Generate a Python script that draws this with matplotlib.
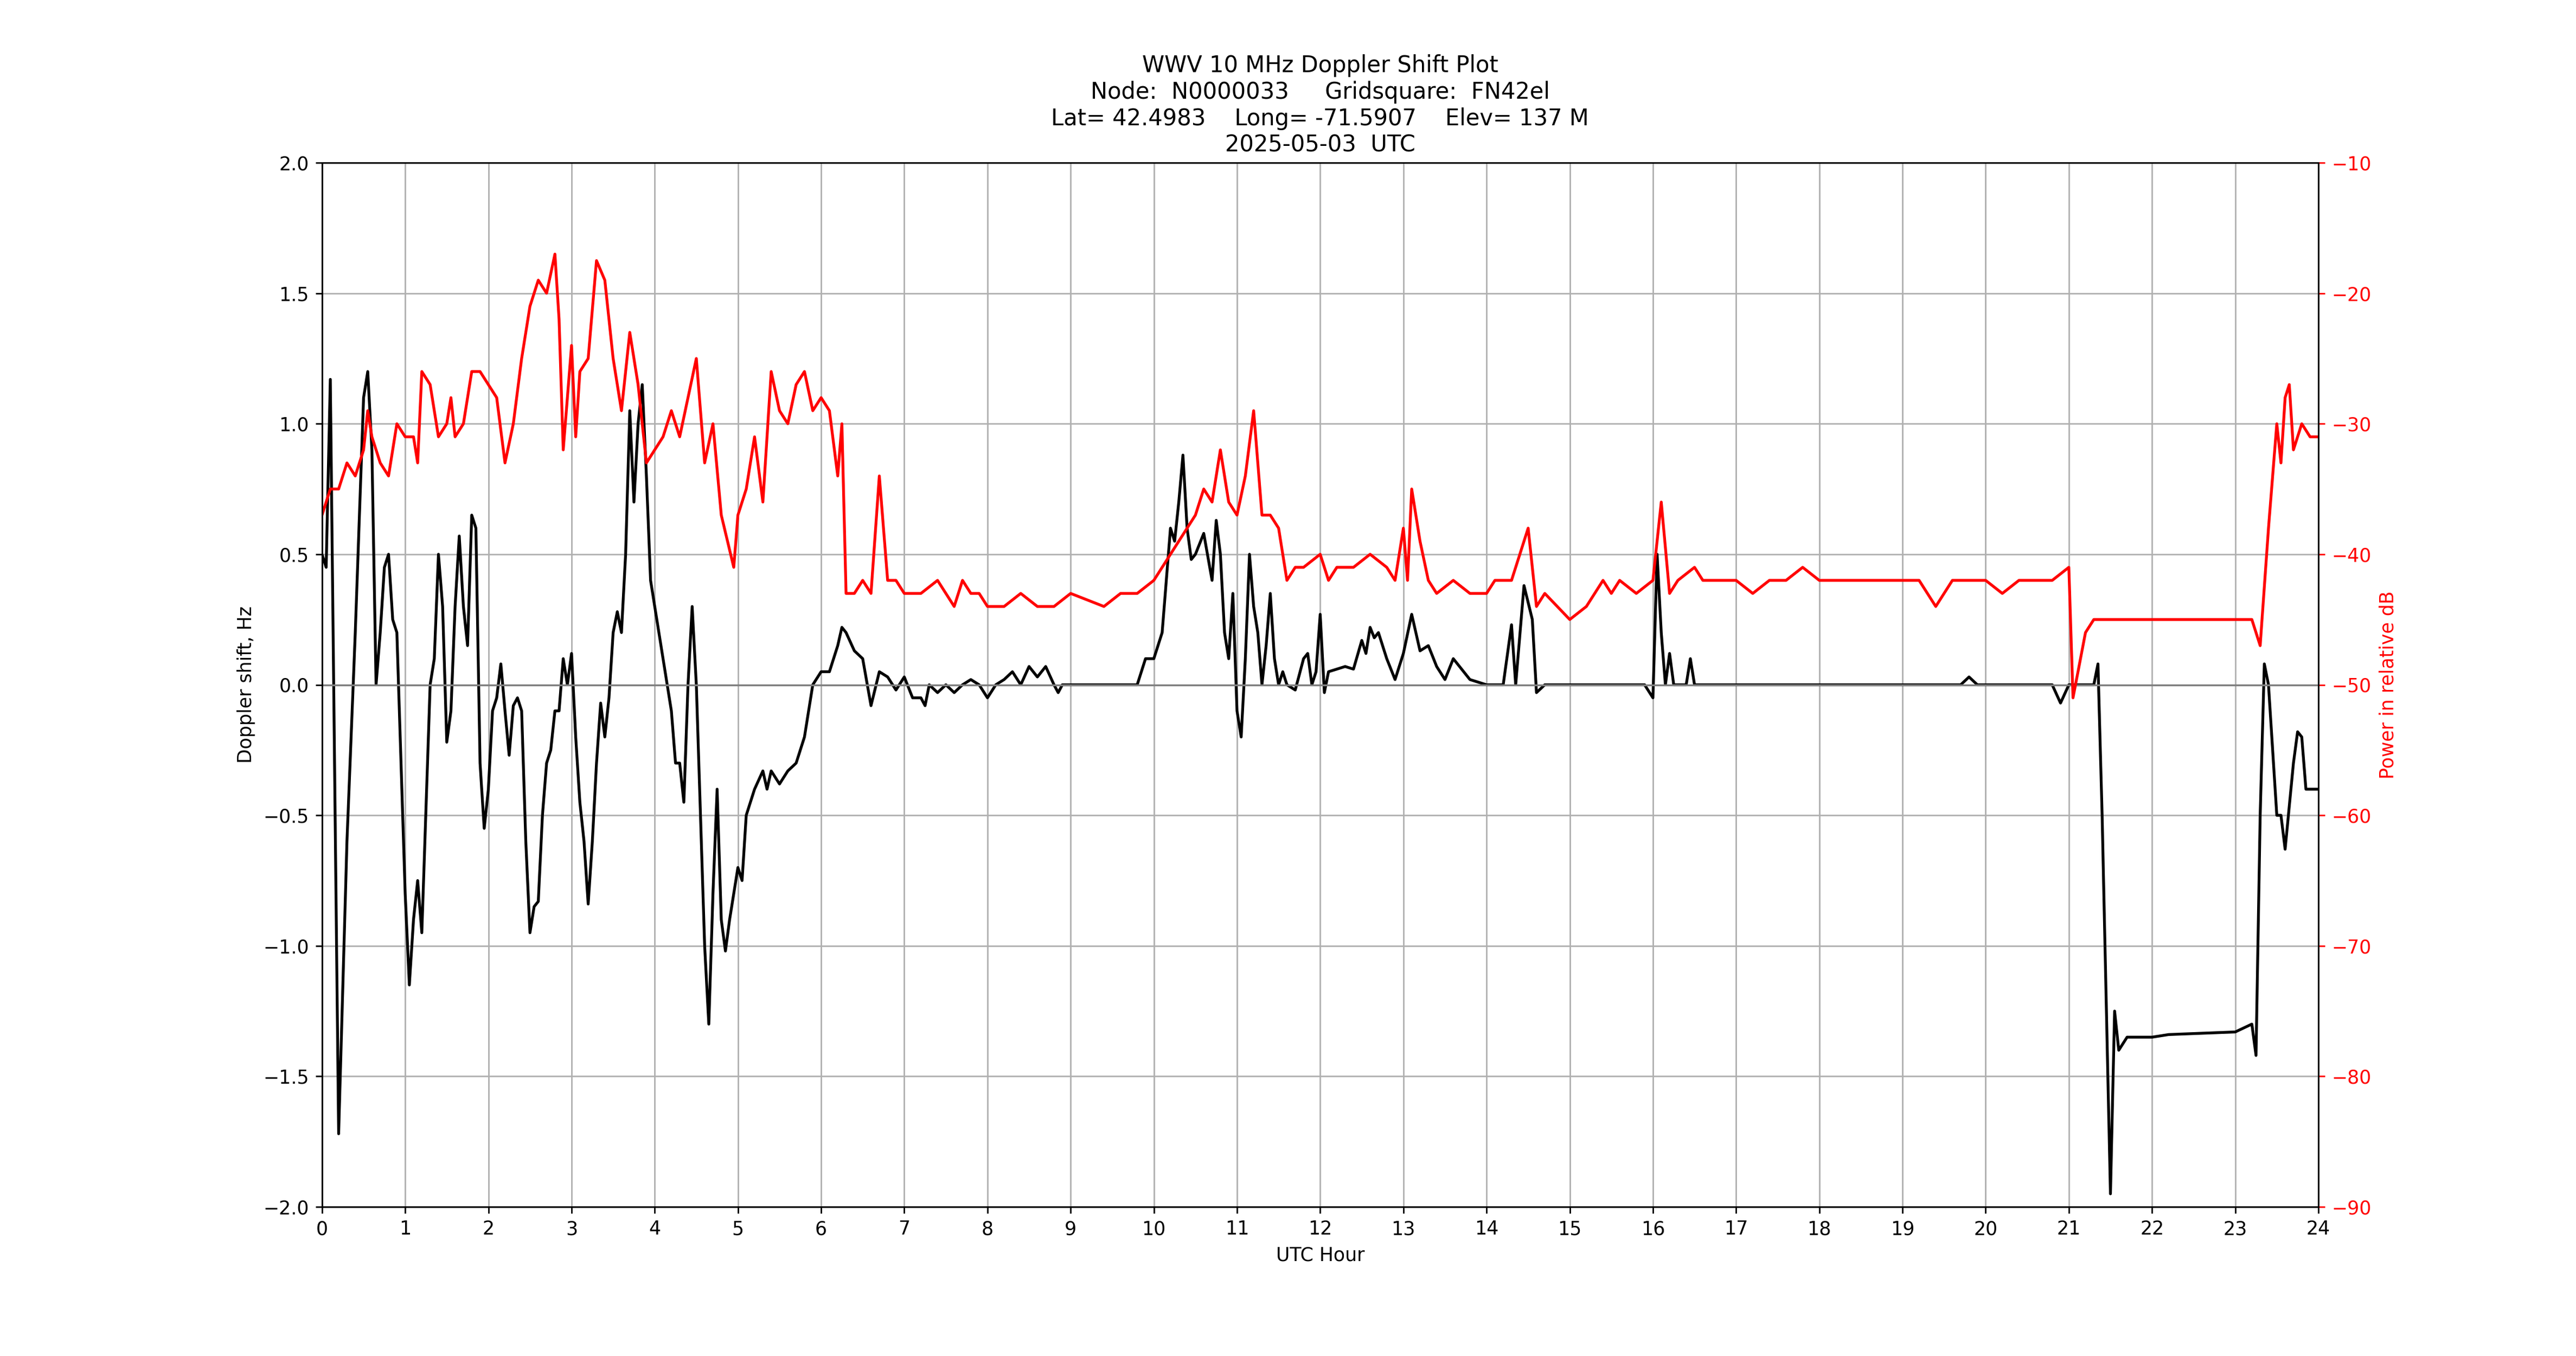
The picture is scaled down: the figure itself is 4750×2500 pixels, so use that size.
import matplotlib
matplotlib.use("Agg")
import matplotlib.pyplot as plt

dop_h = [0,0.05,0.1,0.2,0.3,0.4,0.5,0.55,0.6,0.65,0.7,0.75,0.8,0.85,0.9,0.95,1.0,1.05,1.1,1.15,1.2,1.3,1.35,1.4,1.45,1.5,1.55,1.6,1.65,1.7,1.75,1.8,1.85,1.9,1.95,2.0,2.05,2.1,2.15,2.2,2.25,2.3,2.35,2.4,2.45,2.5,2.55,2.6,2.65,2.7,2.75,2.8,2.85,2.9,2.95,3.0,3.05,3.1,3.15,3.2,3.25,3.3,3.35,3.4,3.45,3.5,3.55,3.6,3.65,3.7,3.75,3.8,3.85,3.9,3.95,4.0,4.05,4.1,4.2,4.25,4.3,4.35,4.4,4.45,4.5,4.6,4.65,4.7,4.75,4.8,4.85,4.9,4.95,5.0,5.05,5.1,5.2,5.3,5.35,5.4,5.5,5.6,5.7,5.8,5.9,6.0,6.1,6.2,6.25,6.3,6.4,6.5,6.6,6.7,6.8,6.9,7.0,7.1,7.2,7.25,7.3,7.4,7.5,7.6,7.7,7.8,7.9,8.0,8.1,8.2,8.3,8.4,8.5,8.6,8.7,8.8,8.85,8.9,9.0,9.5,9.8,9.9,10.0,10.1,10.2,10.25,10.3,10.35,10.4,10.45,10.5,10.6,10.7,10.75,10.8,10.85,10.9,10.95,11.0,11.05,11.1,11.15,11.2,11.25,11.3,11.35,11.4,11.45,11.5,11.55,11.6,11.7,11.8,11.85,11.9,11.95,12.0,12.05,12.1,12.3,12.4,12.5,12.55,12.6,12.65,12.7,12.8,12.9,13.0,13.1,13.2,13.3,13.4,13.5,13.6,13.8,14.0,14.2,14.3,14.35,14.45,14.55,14.6,14.7,15.9,16.0,16.05,16.1,16.15,16.2,16.25,16.4,16.45,16.5,19.7,19.8,19.9,20.8,20.9,21.0,21.3,21.35,21.4,21.5,21.55,21.6,21.7,22.0,22.2,23.0,23.2,23.25,23.3,23.35,23.4,23.5,23.55,23.6,23.7,23.75,23.8,23.85,24]
dop_v = [0.5,0.45,1.17,-1.72,-0.6,0.2,1.1,1.2,0.9,0.0,0.2,0.45,0.5,0.25,0.2,-0.3,-0.8,-1.15,-0.9,-0.75,-0.95,0.0,0.1,0.5,0.3,-0.22,-0.1,0.3,0.57,0.3,0.15,0.65,0.6,-0.3,-0.55,-0.4,-0.1,-0.05,0.08,-0.1,-0.27,-0.08,-0.05,-0.1,-0.6,-0.95,-0.85,-0.83,-0.5,-0.3,-0.25,-0.1,-0.1,0.1,0.0,0.12,-0.2,-0.45,-0.6,-0.84,-0.6,-0.3,-0.07,-0.2,-0.05,0.2,0.28,0.2,0.5,1.05,0.7,1.0,1.15,0.8,0.4,0.3,0.2,0.1,-0.1,-0.3,-0.3,-0.45,0.0,0.3,0.0,-1.0,-1.3,-0.8,-0.4,-0.9,-1.02,-0.9,-0.8,-0.7,-0.75,-0.5,-0.4,-0.33,-0.4,-0.33,-0.38,-0.33,-0.3,-0.2,0.0,0.05,0.05,0.15,0.22,0.2,0.13,0.1,-0.08,0.05,0.03,-0.02,0.03,-0.05,-0.05,-0.08,0.0,-0.03,0.0,-0.03,0.0,0.02,0.0,-0.05,0.0,0.02,0.05,0.0,0.07,0.03,0.07,0.0,-0.03,0.0,0.0,0.0,0.0,0.1,0.1,0.2,0.6,0.55,0.7,0.88,0.6,0.48,0.5,0.58,0.4,0.63,0.5,0.2,0.1,0.35,-0.1,-0.2,0.1,0.5,0.3,0.2,0.0,0.15,0.35,0.1,0.0,0.05,0.0,-0.02,0.1,0.12,0.0,0.05,0.27,-0.03,0.05,0.07,0.06,0.17,0.12,0.22,0.18,0.2,0.1,0.02,0.12,0.27,0.13,0.15,0.07,0.02,0.1,0.02,0.0,0.0,0.23,0.0,0.38,0.25,-0.03,0.0,0.0,-0.05,0.5,0.2,0.0,0.12,0.0,0.0,0.1,0.0,0.0,0.03,0.0,0.0,-0.07,0.0,0.0,0.08,-0.5,-1.95,-1.25,-1.4,-1.35,-1.35,-1.34,-1.33,-1.3,-1.42,-0.5,0.08,0.0,-0.5,-0.5,-0.63,-0.3,-0.18,-0.2,-0.4,-0.4]

pow_h = [0,0.1,0.2,0.3,0.4,0.5,0.55,0.6,0.7,0.8,0.9,1.0,1.1,1.15,1.2,1.3,1.4,1.5,1.55,1.6,1.7,1.8,1.9,2.0,2.1,2.2,2.3,2.4,2.5,2.6,2.7,2.8,2.85,2.9,3.0,3.05,3.1,3.2,3.3,3.4,3.5,3.6,3.7,3.8,3.9,4.0,4.1,4.2,4.3,4.4,4.5,4.6,4.7,4.8,4.95,5.0,5.1,5.2,5.3,5.4,5.5,5.6,5.7,5.8,5.9,6.0,6.1,6.2,6.25,6.3,6.4,6.5,6.6,6.7,6.8,6.9,7.0,7.2,7.4,7.5,7.6,7.7,7.8,7.9,8.0,8.2,8.4,8.6,8.8,9.0,9.2,9.4,9.6,9.8,10.0,10.1,10.2,10.3,10.4,10.5,10.6,10.7,10.8,10.9,11.0,11.1,11.2,11.3,11.4,11.5,11.6,11.7,11.8,12.0,12.1,12.2,12.4,12.6,12.8,12.9,13.0,13.05,13.1,13.2,13.3,13.4,13.6,13.8,14.0,14.1,14.3,14.5,14.6,14.7,15.0,15.2,15.4,15.5,15.6,15.8,16.0,16.1,16.2,16.3,16.5,16.6,16.8,17.0,17.2,17.4,17.6,17.8,18.0,18.2,18.4,18.6,18.8,19.0,19.2,19.4,19.6,19.8,20.0,20.2,20.4,20.6,20.8,21.0,21.05,21.2,21.3,21.5,22.0,23.2,23.3,23.4,23.5,23.55,23.6,23.65,23.7,23.8,23.9,24]
pow_v = [-37,-35,-35,-33,-34,-32,-29,-31,-33,-34,-30,-31,-31,-33,-26,-27,-31,-30,-28,-31,-30,-26,-26,-27,-28,-33,-30,-25,-21,-19,-20,-17,-22,-32,-24,-31,-26,-25,-17.5,-19,-25,-29,-23,-27,-33,-32,-31,-29,-31,-28,-25,-33,-30,-37,-41,-37,-35,-31,-36,-26,-29,-30,-27,-26,-29,-28,-29,-34,-30,-43,-43,-42,-43,-34,-42,-42,-43,-43,-42,-43,-44,-42,-43,-43,-44,-44,-43,-44,-44,-43,-43.5,-44,-43,-43,-42,-41,-40,-39,-38,-37,-35,-36,-32,-36,-37,-34,-29,-37,-37,-38,-42,-41,-41,-40,-42,-41,-41,-40,-41,-42,-38,-42,-35,-39,-42,-43,-42,-43,-43,-42,-42,-38,-44,-43,-45,-44,-42,-43,-42,-43,-42,-36,-43,-42,-41,-42,-42,-42,-43,-42,-42,-41,-42,-42,-42,-42,-42,-42,-42,-44,-42,-42,-42,-43,-42,-42,-42,-41,-51,-46,-45,-45,-45,-45,-47,-38,-30,-33,-28,-27,-32,-30,-31,-31]

fig, ax = plt.subplots(figsize=(19, 10), dpi=250)
ax.plot(dop_h, dop_v, color='black', lw=1.5)
ax.axhline(0, color='gray', lw=1)
ax.set_xlim(0, 24)
ax.set_ylim(-2, 2)
ax.set_xticks(range(25))
ax.set_yticks([-2, -1.5, -1, -0.5, 0, 0.5, 1, 1.5, 2])
ax.grid(True)
ax.set_xlabel('UTC Hour')
ax.set_ylabel('Doppler shift, Hz')
ax.set_title('WWV 10 MHz Doppler Shift Plot\nNode:  N0000033     Gridsquare:  FN42el\n'
             'Lat= 42.4983    Long= -71.5907    Elev= 137 M\n2025-05-03  UTC')
ax2 = ax.twinx()
ax2.plot(pow_h, pow_v, color='red', lw=1.5)
ax2.set_ylim(-90, -10)
ax2.set_yticks(range(-90, 0, 10))
ax2.set_ylabel('Power in relative dB', color='red')
ax2.tick_params(axis='y', colors='red')
fig.savefig('out.png')
